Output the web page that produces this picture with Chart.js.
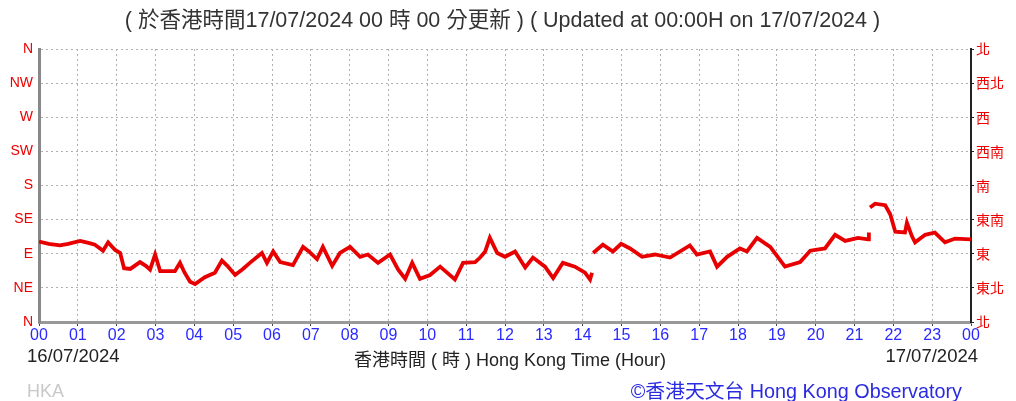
<!DOCTYPE html>
<html>
<head>
<meta charset="utf-8">
<script src="https://cdn.jsdelivr.net/npm/chart.js@4/dist/chart.umd.min.js"></script>
<style>
  html, body { margin: 0; padding: 0; background: #fff; }
  #wrap { position: relative; width: 1016px; height: 401px; overflow: hidden; }
  #wrap canvas { position: absolute; left: 0; top: 0; }
  .txt { position: absolute; white-space: nowrap; font-family: "Liberation Sans", "Noto Sans CJK TC", sans-serif; }
</style>
</head>
<body>
<div id="wrap">
  <canvas id="windChart" width="1016" height="401"></canvas>
  <div class="txt" style="left:0;width:1005px;text-align:center;top:2px;font-size:21.5px;color:#333;">( 於香港時間17/07/2024 00 時 00 分更新 ) ( Updated at 00:00H on 17/07/2024 )</div>
  <div class="txt" style="left:27px;top:345px;font-size:18.5px;color:#222;">16/07/2024</div>
  <div class="txt" style="left:354px;top:345px;font-size:18px;color:#222;">香港時間 ( 時 ) Hong Kong Time (Hour)</div>
  <div class="txt" style="right:38px;top:345px;font-size:18.5px;color:#222;">17/07/2024</div>
  <div class="txt" style="left:27px;top:381px;font-size:18px;color:#c8c8c8;">HKA</div>
  <div class="txt" style="right:54px;top:375px;font-size:19.8px;color:#2a2ae0;">©香港天文台 Hong Kong Observatory</div>
</div>
<script>
// hour of day (0-24) and wind direction in degrees (0 = N, 90 = E, 180 = S ...)
const hours = [
  0.00, 0.25, 0.54, 0.75, 1.06, 1.30, 1.44, 1.65, 1.78, 1.96,
  2.09, 2.19, 2.35, 2.60, 2.75, 2.86, 2.99, 3.12, 3.50, 3.63,
  3.75, 3.89, 4.02, 4.27, 4.53, 4.71, 4.85, 5.05, 5.25, 5.43,
  5.74, 5.87, 6.03, 6.21, 6.54, 6.80, 6.95, 7.16, 7.31, 7.55,
  7.75, 8.01, 8.27, 8.47, 8.73, 9.04, 9.25, 9.43, 9.61, 9.81,
  10.07, 10.33, 10.71, 10.92, 11.23, 11.36, 11.49, 11.61, 11.80, 12.00,
  12.26, 12.52, 12.72, 13.03, 13.24, 13.49, 13.80, 14.06, 14.19, 14.24,
  14.255, 14.27, 14.52, 14.78, 14.99, 15.22, 15.53, 15.86, 16.25, 16.76,
  16.94, 17.28, 17.46, 17.72, 18.05, 18.23, 18.49, 18.83, 19.21, 19.60,
  19.86, 20.24, 20.50, 20.76, 21.09, 21.35, 21.37, 21.385, 21.40, 21.53,
  21.79, 21.92, 22.05, 22.30, 22.35, 22.48, 22.56, 22.82, 23.07, 23.33,
  23.59, 24.00
];
const directions = [
  106, 103, 101, 103, 107, 104, 102, 94, 105, 95,
  91, 71, 70, 79, 74, 69, 89, 67, 67, 78,
  65, 53, 50, 59, 65, 81, 74, 62, 70, 78,
  91, 78, 93, 79, 75, 99, 93, 83, 99, 74,
  91, 99, 86, 89, 78, 89, 69, 57, 78, 57,
  62, 73, 56, 78, 79, 85, 93, 111, 91, 86,
  93, 72, 85, 73, 58, 78, 73, 65, 56, 65,
  null, 91, 102, 93, 103, 97, 86, 89, 85, 101,
  89, 93, 73, 86, 97, 93, 111, 99, 73, 79,
  94, 97, 115, 107, 111, 109, 118, null, 151, 156,
  154, 142, 119, 118, 131, 113, 105, 115, 118, 105,
  110, 109
];
const hourLabels = ['00','01','02','03','04','05','06','07','08','09','10','11',
  '12','13','14','15','16','17','18','19','20','21','22','23','00'];
const dirLabelsEn = ['N','NE','E','SE','S','SW','W','NW','N'];
const dirLabelsZh = ['北','東北','東','東南','南','西南','西','西北','北'];

const points = hours.map((h, i) => ({ x: h, y: directions[i] }));

const ctx = document.getElementById('windChart').getContext('2d');
const windChart = new Chart(ctx, {
  type: 'line',
  data: {
    datasets: [{
      data: points,
      borderColor: '#e80000',
      borderWidth: 3.8,
      pointRadius: 0,
      tension: 0,
      spanGaps: false,
      fill: false
    }]
  },
  options: {
    responsive: false,
    animation: false,
    layout: { padding: { top: 49, bottom: 0, left: 0, right: 0 } },
    plugins: { legend: { display: false }, tooltip: { enabled: false } },
    scales: {
      x: {
        type: 'linear',
        min: 0,
        max: 24,
        afterFit: s => { s.height = 79; },
        ticks: {
          stepSize: 1,
          autoSkip: false,
          maxRotation: 0,
          padding: 0,
          color: '#2a2aff',
          font: { family: '"Liberation Sans Narrow", "Liberation Sans", sans-serif', size: 16 },
          callback: v => hourLabels[v]
        },
        grid: { color: '#b0b0b0', lineWidth: 1, tickLength: 4, tickColor: '#444' },
        border: { display: true, color: '#999', width: 3, dash: [2, 3] }
      },
      y: {
        position: 'left',
        min: 0,
        max: 360,
        afterFit: s => { s.width = 39; },
        ticks: {
          stepSize: 45,
          padding: 6,
          color: '#ee0000',
          font: { family: '"Liberation Sans Narrow", "Liberation Sans", sans-serif', size: 14 },
          callback: v => dirLabelsEn[v / 45]
        },
        grid: { color: '#b0b0b0', lineWidth: 1, tickLength: 0 },
        border: { display: true, color: '#888', width: 3, dash: [2, 3] }
      },
      y2: {
        position: 'right',
        min: 0,
        max: 360,
        afterFit: s => { s.width = 45; },
        ticks: {
          stepSize: 45,
          padding: 2,
          color: '#ee0000',
          font: { family: '"Noto Sans CJK TC", sans-serif', size: 14 },
          callback: v => dirLabelsZh[v / 45]
        },
        grid: { display: true, drawOnChartArea: false, tickLength: 3, tickColor: '#222' },
        border: { display: true, color: '#222', width: 2 }
      }
    }
  }
});
</script>
</body>
</html>
